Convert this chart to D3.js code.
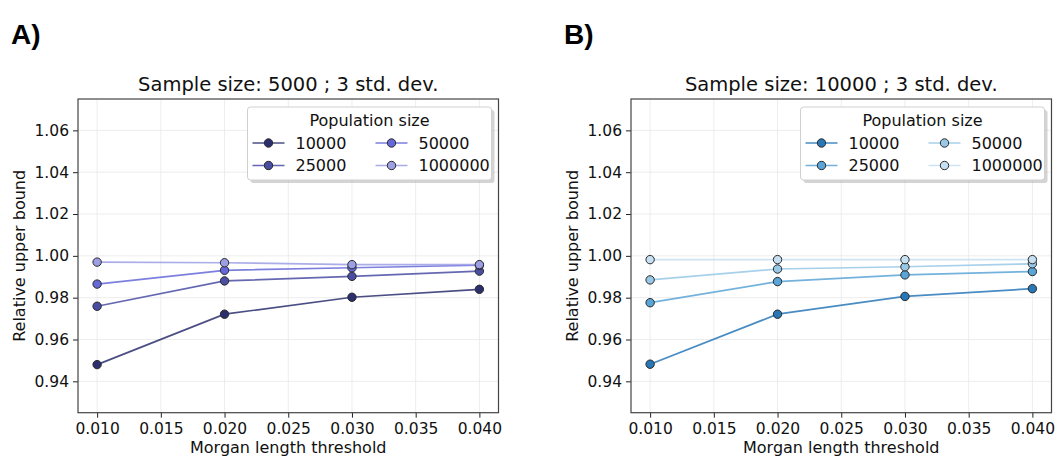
<!DOCTYPE html>
<html>
<head>
<meta charset="utf-8">
<script src="https://cdn.jsdelivr.net/npm/d3@7"></script>
<style>
  body { margin: 0; background: #fff; }
  text { font-family: "DejaVu Sans", sans-serif; fill: #111; }
</style>
</head>
<body>
<script>
const width = 1055;
const height = 458;

// Morgan length threshold (x) and population sizes (series)
const thresholds = [0.01, 0.02, 0.03, 0.04];
const populations = ["10000", "25000", "50000", "1000000"];
const xTicks = [0.01, 0.015, 0.02, 0.025, 0.03, 0.035, 0.04];
const yTicks = [0.94, 0.96, 0.98, 1.0, 1.02, 1.04, 1.06];

// A) sample size 5000
const boundsA = [
  [0.948, 0.9721, 0.9802, 0.9840],
  [0.9759, 0.9880, 0.9902, 0.9927],
  [0.9865, 0.9931, 0.9943, 0.9955],
  [0.9970, 0.9967, 0.9958, 0.9958],
];
// B) sample size 10000
const boundsB = [
  [0.9482, 0.9721, 0.9806, 0.9843],
  [0.9776, 0.9877, 0.9909, 0.9925],
  [0.9885, 0.9937, 0.9948, 0.9962],
  [0.9982, 0.9982, 0.9982, 0.9982],
];

const colorsA = ["#2c2f6e", "#4a4ea3", "#6468d8", "#9c9fe4"];
const colorsB = ["#2878b8", "#5aa5d7", "#98c8e6", "#c6dff1"];

const svg = d3
  .select("body")
  .append("svg")
  .attr("width", width)
  .attr("height", height);

function panel(opts) {
  const { left, label, title, values, colors } = opts;
  const top = 99;
  const w = 420.5;
  const h = 313.7;

  const x = d3.scaleLinear().domain([0.0085, 0.0415]).range([left, left + w]);
  const y = d3.scaleLinear().domain([0.925, 1.075]).range([top + h, top]);

  const g = svg.append("g");

  // panel letter
  g.append("text")
    .attr("x", left - 67)
    .attr("y", 44)
    .style("font-family", "'Liberation Sans', Arial, sans-serif")
    .style("font-weight", "bold")
    .style("font-size", "28px")
    .style("fill", "#000")
    .text(label);

  g.append("text")
    .attr("x", left + w / 2)
    .attr("y", 91)
    .attr("text-anchor", "middle")
    .style("font-size", "19.5px")
    .text(title);

  // grid
  g.append("g")
    .selectAll("line")
    .data(xTicks)
    .join("line")
    .attr("x1", (d) => x(d))
    .attr("x2", (d) => x(d))
    .attr("y1", top)
    .attr("y2", top + h)
    .attr("stroke", "#e8e8e8")
    .attr("stroke-width", 0.8);
  g.append("g")
    .selectAll("line")
    .data(yTicks)
    .join("line")
    .attr("y1", (d) => y(d))
    .attr("y2", (d) => y(d))
    .attr("x1", left)
    .attr("x2", left + w)
    .attr("stroke", "#e8e8e8")
    .attr("stroke-width", 0.8);

  // axes
  const xAxis = g
    .append("g")
    .attr("transform", `translate(0,${top + h})`)
    .call(
      d3.axisBottom(x).tickValues(xTicks).tickFormat(d3.format(".3f")).tickSize(5).tickPadding(5)
    );
  const yAxis = g
    .append("g")
    .attr("transform", `translate(${left},0)`)
    .call(
      d3.axisLeft(y).tickValues(yTicks).tickFormat(d3.format(".2f")).tickSize(5).tickPadding(4)
    );
  [xAxis, yAxis].forEach((a) => {
    a.select(".domain").remove();
    a.selectAll("line").attr("stroke", "#222");
    a.selectAll("text").style("font-size", "15.5px").style("font-family", "'DejaVu Sans', sans-serif").attr("fill", "#111");
  });

  g.append("rect")
    .attr("x", left)
    .attr("y", top)
    .attr("width", w)
    .attr("height", h)
    .attr("fill", "none")
    .attr("stroke", "#444")
    .attr("stroke-width", 1.2);

  g.append("text")
    .attr("x", left + w / 2)
    .attr("y", 453)
    .attr("text-anchor", "middle")
    .style("font-size", "16px")
    .text("Morgan length threshold");

  g.append("text")
    .attr("transform", `translate(${left - 53},${top + h / 2}) rotate(-90)`)
    .attr("text-anchor", "middle")
    .style("font-size", "16px")
    .text("Relative upper bound");

  // series
  const line = d3
    .line()
    .x((d, i) => x(thresholds[i]))
    .y((d) => y(d));

  values.forEach((vals, s) => {
    const sg = g.append("g");
    sg.append("path")
      .attr("d", line(vals))
      .attr("fill", "none")
      .attr("stroke", colors[s])
      .attr("stroke-opacity", 0.85)
      .attr("stroke-width", 1.7);
    sg.selectAll("circle")
      .data(vals)
      .join("circle")
      .attr("cx", (d, i) => x(thresholds[i]))
      .attr("cy", (d) => y(d))
      .attr("r", 4.2)
      .attr("fill", colors[s])
      .attr("stroke", "#2a2a2a")
      .attr("stroke-width", 1);
  });

  // legend
  const lx = left + w - 251;
  const ly = 107;
  const lw = 244;
  const lh = 73;
  const leg = g.append("g");
  leg.append("rect")
    .attr("x", lx + 3)
    .attr("y", ly + 3)
    .attr("width", lw)
    .attr("height", lh)
    .attr("rx", 3)
    .attr("fill", "#aaa")
    .attr("opacity", 0.5);
  leg.append("rect")
    .attr("x", lx)
    .attr("y", ly)
    .attr("width", lw)
    .attr("height", lh)
    .attr("rx", 3)
    .attr("fill", "#fff")
    .attr("stroke", "#d0d0d0");
  leg.append("text")
    .attr("x", lx + lw / 2)
    .attr("y", ly + 19)
    .attr("text-anchor", "middle")
    .style("font-size", "16px")
    .text("Population size");

  populations.forEach((p, i) => {
    const col = Math.floor(i / 2);
    const row = i % 2;
    const hx = lx + 5 + col * 123;
    const hy = ly + 36 + row * 22.5;
    const item = leg.append("g");
    item.append("line")
      .attr("x1", hx)
      .attr("x2", hx + 32)
      .attr("y1", hy)
      .attr("y2", hy)
      .attr("stroke", colors[i])
      .attr("stroke-opacity", 0.85)
      .attr("stroke-width", 1.7);
    item.append("circle")
      .attr("cx", hx + 16)
      .attr("cy", hy)
      .attr("r", 4.2)
      .attr("fill", colors[i])
      .attr("stroke", "#2a2a2a")
      .attr("stroke-width", 1);
    item.append("text")
      .attr("x", hx + 43)
      .attr("y", hy)
      .attr("dy", "0.36em")
      .style("font-size", "16px")
      .text(p);
  });
}

panel({
  left: 78,
  label: "A)",
  title: "Sample size: 5000 ; 3 std. dev.",
  values: boundsA,
  colors: colorsA,
});
panel({
  left: 631,
  label: "B)",
  title: "Sample size: 10000 ; 3 std. dev.",
  values: boundsB,
  colors: colorsB,
});
</script>
</body>
</html>
